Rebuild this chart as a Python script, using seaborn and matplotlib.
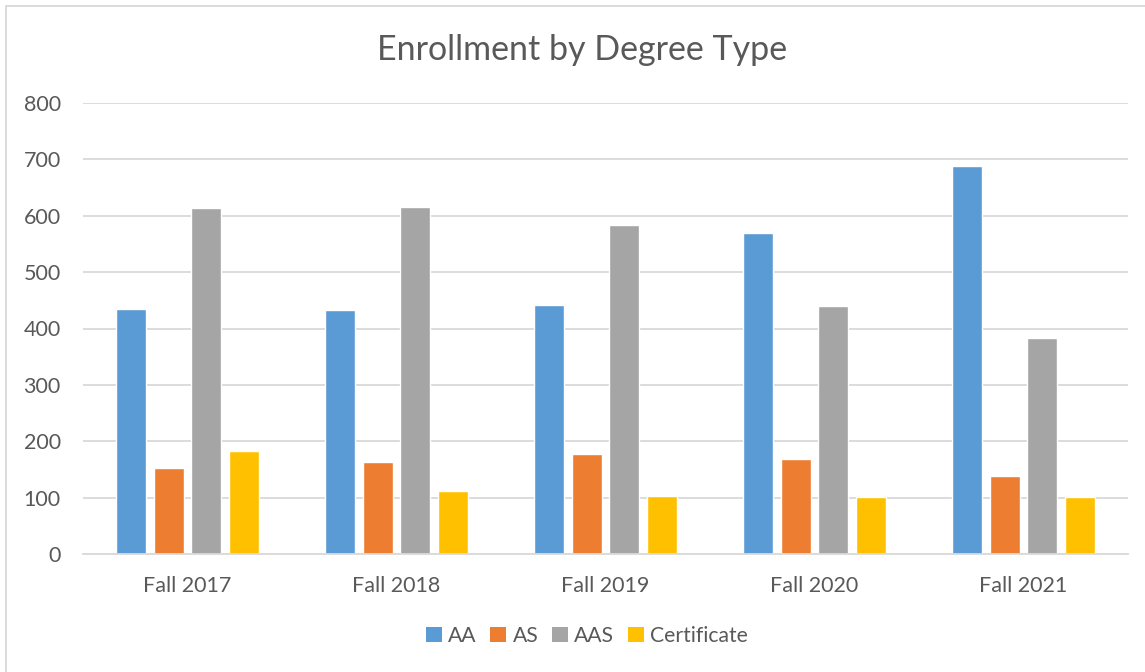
import matplotlib
matplotlib.use("Agg")
import matplotlib.pyplot as plt
import seaborn as sns
import pandas as pd
from matplotlib.patches import Rectangle, Patch

categories = ["Fall 2017", "Fall 2018", "Fall 2019", "Fall 2020", "Fall 2021"]
series_names = ["AA", "AS", "AAS", "Certificate"]
aa = [435, 432, 442, 570, 689]
as_ = [153, 163, 178, 169, 139]
aas = [613, 616, 584, 440, 384]
cert = [183, 112, 103, 101, 101]
colors = ["#5B9BD5", "#ED7D31", "#A5A5A5", "#FFC000"]
yticks = [0, 100, 200, 300, 400, 500, 600, 700, 800]

rows = []
for name, vals in zip(series_names, [aa, as_, aas, cert]):
    for c, v in zip(categories, vals):
        rows.append({"Term": c, "Type": name, "Value": v})
df = pd.DataFrame(rows)

sns.set_theme(style="white")
plt.rcParams["font.family"] = ["Lato", "DejaVu Sans"]
text_color = "#595959"

fig = plt.figure(figsize=(11.45, 6.72), dpi=100)
ax = fig.add_axes([83 / 1145, 118 / 672, 1045 / 1145, 451 / 672])

sns.barplot(data=df, x="Term", y="Value", hue="Type", order=categories,
            hue_order=series_names, palette=colors, width=0.727, gap=0.21,
            saturation=1, errorbar=None, ax=ax, legend=False)

ax.set_xlim(-0.5, 4.5)
ax.set_ylim(0, 800)
ax.set_yticks(yticks)
ax.set_yticklabels([str(t) for t in yticks])
ax.yaxis.grid(True, color="#D9D9D9", linewidth=1.3)
ax.set_axisbelow(True)
for s in ["left", "right", "top"]:
    ax.spines[s].set_visible(False)
ax.spines["bottom"].set_color("#D9D9D9")
ax.spines["bottom"].set_linewidth(1.3)
ax.set_xlabel("")
ax.set_ylabel("")
ax.tick_params(axis="both", length=0, labelsize=15.5, colors=text_color)
ax.tick_params(axis="y", pad=16)
ax.tick_params(axis="x", pad=16)

fig.text(582 / 1145, 1 - 50 / 672, "Enrollment by Degree Type", ha="center", va="center",
         fontsize=24.5, color=text_color)

handles = [Patch(facecolor=c, edgecolor="none") for c in colors]
fig.legend(handles, series_names, loc="center", bbox_to_anchor=(587 / 1145, 1 - 636 / 672),
           ncol=4, frameon=False, fontsize=15.2, handlelength=0.75, handleheight=0.75,
           handletextpad=0.3, columnspacing=0.65, labelcolor=text_color)

fig.add_artist(Rectangle((6 / 1145, -0.1), 1.2, (1 - 5.5 / 672) + 0.1,
                         transform=fig.transFigure, fill=False,
                         edgecolor="#D9D9D9", linewidth=1.3, clip_on=False))

fig.savefig("out.png", dpi=100, facecolor="white")
